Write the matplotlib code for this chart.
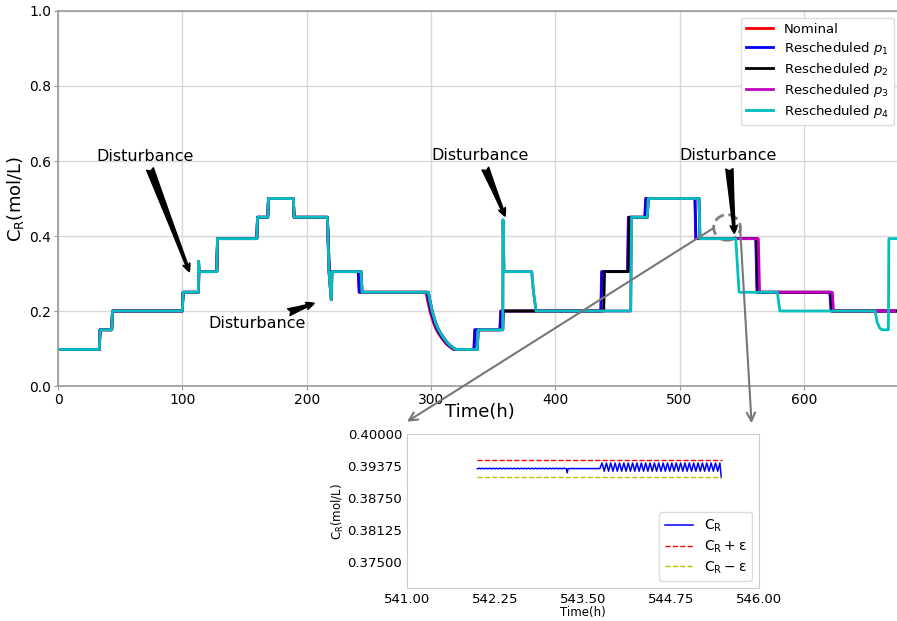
import matplotlib
matplotlib.use("Agg")
import matplotlib.pyplot as plt
from matplotlib.patches import Ellipse, ConnectionPatch
from matplotlib.ticker import FormatStrFormatter

# shared start of the schedules (h, mol/L)
base_t = [0, 33.2, 33.8, 43.2, 43.8, 100.0, 100.6, 112.9, 113.4, 127.7, 128.3,
          159.9, 160.5, 168.7, 169.3, 189.3, 189.9, 216.7, 218.3]
base_c = [0.0975, 0.0975, 0.15, 0.15, 0.2, 0.2, 0.25, 0.25, 0.305, 0.305, 0.393,
          0.393, 0.45, 0.45, 0.5, 0.5, 0.45, 0.45, 0.305]

# transition 0.25 -> 0.0975 around t = 300 h
decay_c = [0.25, 0.232, 0.216, 0.201, 0.189, 0.168, 0.152, 0.140, 0.130,
           0.121, 0.113, 0.107, 0.102, 0.0975]
decay_t_nom = [296.1, 297.1, 298.1, 299.1, 300.1, 302.1, 304.1, 306.1, 308.1,
               310.1, 312.1, 314.1, 316.1, 318.1]
decay_t_p1 = [296.9, 297.9, 298.9, 299.9, 300.9, 302.9, 304.9, 306.9, 308.9,
              310.9, 312.9, 314.9, 316.9, 318.9]
decay_t_p4 = [297.9, 298.9, 299.9, 300.9, 301.9, 303.9, 305.9, 307.9, 309.9,
              311.9, 313.9, 315.9, 317.9, 319.9]

# Nominal
nom_t = base_t + [241.4, 242.2] + decay_t_nom + [
    334.5, 335.2, 355.4, 356.1, 436.6, 437.3, 458.1, 458.8, 472.0, 472.7,
    512.3, 513.0, 561.3, 562.3, 620.9, 621.9, 678.0]
nom_c = base_c + [0.305, 0.25] + decay_c + [
    0.0975, 0.15, 0.15, 0.2, 0.2, 0.305, 0.305, 0.45, 0.45, 0.5,
    0.5, 0.393, 0.393, 0.25, 0.25, 0.2, 0.2]

# Rescheduled p1
p1_t = base_t + [241.6, 242.4] + decay_t_p1 + [
    334.7, 335.4, 355.6, 356.3, 436.8, 437.5, 458.3, 459.0, 472.2, 472.9,
    512.5, 513.2, 561.5, 562.5, 621.1, 622.1, 678.0]
p1_c = base_c + [0.305, 0.25] + decay_c + [
    0.0975, 0.15, 0.15, 0.2, 0.2, 0.305, 0.305, 0.45, 0.45, 0.5,
    0.5, 0.393, 0.393, 0.25, 0.25, 0.2, 0.2]

# Rescheduled p4 (with the disturbance responses)
p4_head_t = [0, 33.2, 33.8, 43.2, 43.8, 100.0, 100.6, 112.9, 113.1, 113.5,
             127.7, 128.3, 159.9, 160.5, 168.7, 169.3, 189.3, 189.9, 216.7,
             218.0, 219.8, 220.4, 243.8, 244.6]
p4_head_c = [0.0975, 0.0975, 0.15, 0.15, 0.2, 0.2, 0.25, 0.25, 0.332, 0.305,
             0.305, 0.393, 0.393, 0.45, 0.45, 0.5, 0.5, 0.45, 0.45,
             0.305, 0.23, 0.305, 0.305, 0.25]
p4_mid_t = [337.3, 338.0, 357.8, 358.0, 358.8, 381.1, 382.5, 384.6, 460.7,
            461.4, 474.1, 474.8, 515.7, 516.4, 545.2]
p4_mid_c = [0.0975, 0.15, 0.15, 0.443, 0.305, 0.305, 0.25, 0.2, 0.2,
            0.45, 0.45, 0.5, 0.5, 0.393, 0.393]
p4_tail_t = [547.9, 578.7, 580.7, 657.3, 659.0, 661.0, 662.7, 668.0, 668.4, 678.0]
p4_tail_c = [0.25, 0.25, 0.2, 0.2, 0.17, 0.155, 0.15, 0.15, 0.393, 0.393]
p4_t = p4_head_t + decay_t_p4 + p4_mid_t + p4_tail_t
p4_c = p4_head_c + decay_c + p4_mid_c + p4_tail_c

# Rescheduled p2 leaves p4 at 358 h
p2_t = p4_head_t + decay_t_p4 + [
    337.3, 338.0, 357.8, 358.3, 439.0, 439.7, 459.1, 459.8, 474.1, 474.8,
    515.7, 516.4, 562.3, 563.3, 622.0, 623.0, 678.0]
p2_c = p4_head_c + decay_c + [
    0.0975, 0.15, 0.15, 0.2, 0.2, 0.305, 0.305, 0.45, 0.45, 0.5,
    0.5, 0.393, 0.393, 0.25, 0.25, 0.2, 0.2]

# Rescheduled p3 follows p4 until 545 h
p3_t = p4_head_t + decay_t_p4 + p4_mid_t + [563.4, 564.4, 622.9, 623.9, 673.0]
p3_c = p4_head_c + decay_c + p4_mid_c + [0.393, 0.25, 0.25, 0.2, 0.2]

# zoomed window around t = 543 h
fine_t = [542.000, 542.025, 542.050, 542.075, 542.100, 542.125, 542.150, 542.175,
          542.200, 542.225, 542.250, 542.275, 542.300, 542.325, 542.350, 542.375,
          542.400, 542.425, 542.450, 542.475, 542.500, 542.525, 542.550, 542.575,
          542.600, 542.625, 542.650, 542.675, 542.700, 542.725, 542.750, 542.775,
          542.800, 542.825, 542.850, 542.875, 542.900, 542.925, 542.950, 542.975,
          543.000, 543.025, 543.050, 543.075, 543.100, 543.125, 543.150, 543.175,
          543.200, 543.225, 543.250, 543.265, 543.275, 543.290, 543.740]
fine_c = [0.39322, 0.39334, 0.39322, 0.39334, 0.39322, 0.39334, 0.39322, 0.39334,
          0.39322, 0.39334, 0.39322, 0.39334, 0.39322, 0.39334, 0.39322, 0.39334,
          0.39322, 0.39334, 0.39322, 0.39334, 0.39322, 0.39334, 0.39322, 0.39334,
          0.39322, 0.39334, 0.39322, 0.39334, 0.39322, 0.39334, 0.39322, 0.39334,
          0.39322, 0.39334, 0.39322, 0.39334, 0.39322, 0.39334, 0.39322, 0.39334,
          0.39322, 0.39334, 0.39322, 0.39334, 0.39322, 0.39334, 0.39322, 0.39334,
          0.39322, 0.39334, 0.39327, 0.39327, 0.39244, 0.39327, 0.39327]
osc_t = [543.771, 543.802, 543.833, 543.864, 543.895, 543.926, 543.957, 543.988,
         544.019, 544.050, 544.081, 544.112, 544.143, 544.174, 544.205, 544.236,
         544.267, 544.298, 544.329, 544.360, 544.391, 544.422, 544.453, 544.484,
         544.515, 544.546, 544.577, 544.608, 544.639, 544.670, 544.701, 544.732,
         544.763, 544.794, 544.825, 544.856, 544.887, 544.918, 544.949, 544.980,
         545.011, 545.042, 545.073, 545.104, 545.135, 545.166, 545.197, 545.228,
         545.259, 545.290, 545.321, 545.352, 545.383, 545.414, 545.445, 545.465]
osc_c = [0.39436, 0.39275, 0.39436, 0.39275, 0.39436, 0.39275, 0.39436, 0.39275,
         0.39436, 0.39275, 0.39436, 0.39275, 0.39436, 0.39275, 0.39436, 0.39275,
         0.39436, 0.39275, 0.39436, 0.39275, 0.39436, 0.39275, 0.39436, 0.39275,
         0.39436, 0.39275, 0.39436, 0.39275, 0.39436, 0.39275, 0.39436, 0.39275,
         0.39436, 0.39275, 0.39436, 0.39275, 0.39436, 0.39275, 0.39436, 0.39275,
         0.39436, 0.39275, 0.39436, 0.39275, 0.39436, 0.39275, 0.39436, 0.39275,
         0.39436, 0.39275, 0.39436, 0.39275, 0.39436, 0.39275, 0.39436, 0.39150]
zoom_t = fine_t + osc_t
zoom_c = fine_c + osc_c
band_t = [542.0, 545.47]
upper_c = [0.39487, 0.39487]
lower_c = [0.39167, 0.39167]

series = [
    (nom_t, nom_c, 'r', 'Nominal'),
    (p1_t, p1_c, 'b', 'Rescheduled $p_1$'),
    (p2_t, p2_c, 'k', 'Rescheduled $p_2$'),
    (p3_t, p3_c, 'm', 'Rescheduled $p_3$'),
    (p4_t, p4_c, 'c', 'Rescheduled $p_4$'),
]

fig = plt.figure(figsize=(8.97, 6.21), dpi=100)
# the axes run slightly past the right edge of the figure
ax = fig.add_axes([0.0647, 0.3784, 0.9398, 0.6039])

for t, c, col, lab in series:
    ax.plot(t, c, color=col, lw=2, label=lab)

ax.set_xlim(0, 678.2)
ax.set_ylim(0, 1.0)
ax.set_xticks([0, 100, 200, 300, 400, 500, 600])
ax.set_yticks([0.0, 0.2, 0.4, 0.6, 0.8, 1.0])
ax.grid(True, color='#d8d8d8', lw=1)
ax.set_axisbelow(True)
for s in ax.spines.values():
    s.set_color('#999999')
    s.set_linewidth(1.2)
ax.tick_params(labelsize=10, color='#999999', length=3, pad=2)
ax.set_xlabel('Time(h)', fontsize=13, labelpad=-3)
ax.set_ylabel(r'C$_\mathrm{R}$(mol/L)', fontsize=13, labelpad=2)
ax.legend(loc='upper right', fontsize=9.5, handlelength=2.1, labelspacing=0.3,
          borderaxespad=0.5, framealpha=1, edgecolor='#dddddd')

# disturbance markers
arrow = dict(arrowstyle='fancy,head_length=0.5,head_width=0.45,tail_width=0.45',
             color='k', shrinkA=2, shrinkB=0)
notes = [((70, 0.613), (105.6, 0.305)),
         ((159.9, 0.167), (206.0, 0.2205)),
         ((339.5, 0.614), (359.6, 0.453)),
         ((539.3, 0.614), (544.1, 0.407))]
for txt_xy, tip in notes:
    ax.annotate('Disturbance', xy=tip, xytext=txt_xy, ha='center', va='center',
                fontsize=11.5, arrowprops=arrow)

ax.add_patch(Ellipse((538.2, 0.4227), 21.5, 0.068, fill=False,
                     edgecolor='#808080', ls='--', lw=2))

# zoomed inset
axins = fig.add_axes([0.4537, 0.0531, 0.3924, 0.248])
axins.plot(zoom_t, zoom_c, color='b', lw=1.1, label=r'C$_\mathrm{R}$')
axins.plot(band_t, upper_c, 'r--', lw=1, label=r'C$_\mathrm{R}+\mathrm{\varepsilon}$')
axins.plot(band_t, lower_c, 'y--', lw=1, label=r'C$_\mathrm{R}-\mathrm{\varepsilon}$')
axins.set_xlim(541, 546)
axins.set_ylim(0.37, 0.40)
axins.set_xticks([541.0, 542.25, 543.5, 544.75, 546.0])
axins.set_yticks([0.375, 0.38125, 0.3875, 0.39375, 0.4])
axins.xaxis.set_major_formatter(FormatStrFormatter('%.2f'))
axins.yaxis.set_major_formatter(FormatStrFormatter('%.5f'))
axins.tick_params(labelsize=9.5, length=0)
for s in axins.spines.values():
    s.set_color('#cccccc')
axins.set_xlabel('Time(h)', fontsize=8.5, labelpad=0)
axins.set_ylabel(r'C$_\mathrm{R}$(mol/L)', fontsize=8.5, labelpad=1)
axins.legend(loc='lower right', fontsize=10, handlelength=2.0, labelspacing=0.3,
             framealpha=1, edgecolor='#dddddd')

# lines from the circled region down to the inset
for xy_a, xy_b in [((527.1, 0.4205), (0.0, 1.08)), ((548.7, 0.424), (0.979, 1.07))]:
    con = ConnectionPatch(xyA=xy_a, coordsA=ax.transData, xyB=xy_b,
                          coordsB=axins.transAxes, arrowstyle='->,head_length=0.6,head_width=0.3',
                          color='#777777', lw=1.5)
    fig.add_artist(con)

fig.savefig('out.png', dpi=100)
